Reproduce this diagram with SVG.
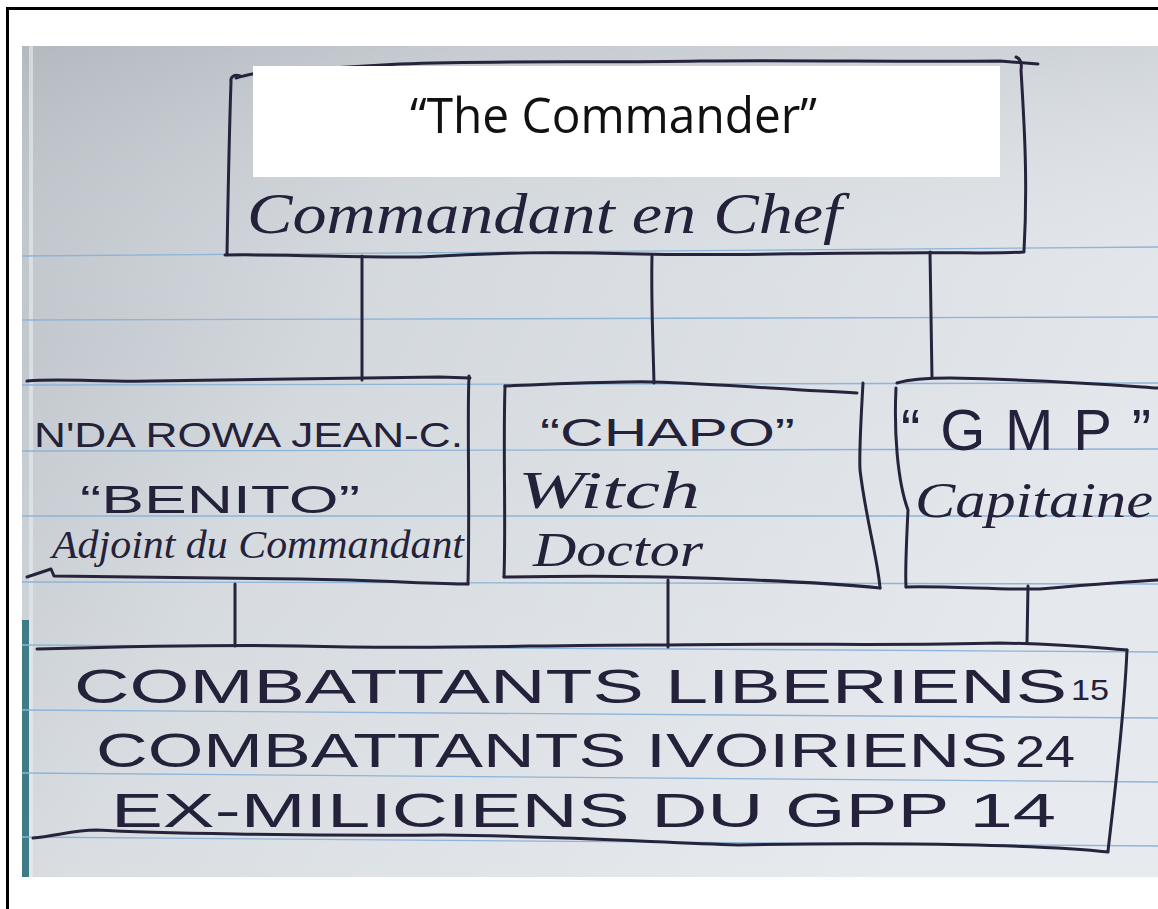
<svg xmlns="http://www.w3.org/2000/svg" width="1158" height="909" viewBox="0 0 1158 909">
  <defs>
    <linearGradient id="paper" x1="0" y1="0" x2="1" y2="0.35">
      <stop offset="0" stop-color="#b9c0c6"/>
      <stop offset="0.35" stop-color="#d3d8dd"/>
      <stop offset="1" stop-color="#e3e7ec"/>
    </linearGradient>
    <linearGradient id="paperV" x1="0" y1="0" x2="0" y2="1">
      <stop offset="0" stop-color="#9ea6ac" stop-opacity="0.25"/>
      <stop offset="0.35" stop-color="#ffffff" stop-opacity="0"/>
      <stop offset="1" stop-color="#ffffff" stop-opacity="0.15"/>
    </linearGradient>
    <clipPath id="photo">
      <rect x="22" y="46" width="1136" height="831"/>
    </clipPath>
    <style>
      .ink { fill: none; stroke: #26243d; stroke-width: 3; stroke-linecap: round; stroke-linejoin: round; }
      .rule { fill: none; stroke: #8db4d9; stroke-width: 1.4; }
      .caps { font-family: "Liberation Sans", Arial, sans-serif; fill: #24223a; }
      .script { font-family: "Liberation Serif", "Times New Roman", serif; font-style: italic; fill: #24223a; }
      .label { font-family: "Open Sans", "Noto Sans", sans-serif; fill: #111111; }
    </style>
  </defs>

  <!-- frame -->
  <rect x="0" y="0" width="1158" height="909" fill="#ffffff"/>
  <rect x="7.5" y="8.5" width="1170" height="920" fill="none" stroke="#000000" stroke-width="3"/>

  <g clip-path="url(#photo)">
    <!-- notebook paper -->
    <rect x="22" y="46" width="1136" height="831" fill="url(#paper)"/>
    <rect x="22" y="46" width="1136" height="831" fill="url(#paperV)"/>
    <rect x="22" y="620" width="7" height="257" fill="#3f7c88"/>
    <rect x="29" y="46" width="4" height="831" fill="#e9edf0" opacity="0.6"/>

    <!-- ruled lines -->
    <g id="rules">
      <path class="rule" d="M22,256 L1158,247"/>
      <path class="rule" d="M22,320 L1158,317"/>
      <path class="rule" d="M22,385 L1158,383"/>
      <path class="rule" d="M22,451 L1158,449"/>
      <path class="rule" d="M22,516 L1158,516"/>
      <path class="rule" d="M22,582 L1158,584"/>
      <path class="rule" d="M22,645 L1158,652"/>
      <path class="rule" d="M22,710 L1158,718"/>
      <path class="rule" d="M22,773 L1158,782"/>
      <path class="rule" d="M22,837 L1158,846"/>
    </g>

    <!-- connectors -->
    <g id="connectors">
      <path class="ink" d="M362,256 L362,380"/>
      <path class="ink" d="M652,256 C651,300 653,340 654,383"/>
      <path class="ink" d="M930,252 L932,378"/>
      <path class="ink" d="M235,584 L235,646"/>
      <path class="ink" d="M668,580 L668,647"/>
      <path class="ink" d="M1028,586 L1027,643"/>
    </g>

    <!-- commander in chief -->
    <g id="node-chef">
      <path class="ink" d="M240,76 C234,74 230,77 231,82 C229,140 228,200 227,254"/>
      <path class="ink" d="M236,78 C245,75 252,74 262,72 L400,64 C500,60 600,63 700,61 C800,60 900,62 1000,61 L1038,64"/>
      <path class="ink" d="M1016,57 C1021,59 1022,64 1021,70 C1024,120 1028,180 1024,251"/>
      <path class="ink" d="M225,255 C300,254 350,258 420,257 C500,252 560,252 640,254 C720,256 800,253 880,253 C950,252 1000,254 1024,252"/>
      <rect x="253" y="66" width="747" height="111" fill="#ffffff"/>
      <text class="label" x="410" y="133" font-size="50" textLength="407" lengthAdjust="spacingAndGlyphs">“The Commander”</text>
      <text class="script" x="247" y="233" font-size="58" textLength="595" lengthAdjust="spacingAndGlyphs">Commandant en Chef</text>
    </g>

    <!-- deputy commander -->
    <g id="node-benito">
      <path class="ink" d="M27,381 C60,378 100,382 150,381 C250,379 350,378 440,377 L470,378"/>
      <path class="ink" d="M469,376 C467,420 470,500 468,584"/>
      <path class="ink" d="M27,577 L51,569 L54,576 C100,576 200,578 300,579 C380,580 430,584 468,584"/>
      <text class="caps" x="34" y="447" font-size="35" textLength="429" lengthAdjust="spacingAndGlyphs">N'DA ROWA JEAN-C.</text>
      <text class="caps" x="80" y="513" font-size="38" textLength="280" lengthAdjust="spacingAndGlyphs">“BENITO”</text>
      <text class="script" x="52" y="558" font-size="40" textLength="412" lengthAdjust="spacingAndGlyphs">Adjoint du Commandant</text>
    </g>

    <!-- witch doctor -->
    <g id="node-chapo">
      <path class="ink" d="M505,386 C503,450 506,520 504,577"/>
      <path class="ink" d="M505,386 C560,384 620,381 653,382 C720,384 790,390 857,393"/>
      <path class="ink" d="M863,383 C861,420 859,450 860,470 C866,520 878,560 880,588"/>
      <path class="ink" d="M504,577 C560,576 620,575 700,578 C760,580 820,582 880,588"/>
      <text class="caps" x="540" y="446" font-size="38" textLength="255" lengthAdjust="spacingAndGlyphs">“CHAPO”</text>
      <text class="script" x="518" y="508" font-size="52" textLength="182" lengthAdjust="spacingAndGlyphs">Witch</text>
      <text class="script" x="533" y="566" font-size="48" textLength="170" lengthAdjust="spacingAndGlyphs">Doctor</text>
    </g>

    <!-- captain -->
    <g id="node-gmp">
      <path class="ink" d="M896,388 C894,430 897,480 908,510 C906,550 905,570 906,587"/>
      <path class="ink" d="M897,383 C910,379 930,378 950,378 C1050,380 1100,384 1158,388"/>
      <path class="ink" d="M906,587 C950,586 1000,590 1040,589 C1100,584 1140,581 1160,580"/>
      <text class="caps" x="901" y="450" font-size="58" textLength="250">“GMP”</text>
      <text class="script" x="915" y="517" font-size="50" textLength="238" lengthAdjust="spacingAndGlyphs">Capitaine</text>
    </g>

    <!-- fighters -->
    <g id="node-fighters">
      <path class="ink" d="M37,649 C150,646 250,645 300,646 C450,650 550,644 668,645 C800,643 900,646 1000,643 C1060,644 1100,648 1127,650"/>
      <path class="ink" d="M1127,650 C1124,720 1115,790 1108,851"/>
      <path class="ink" d="M33,838 C55,836 75,830 96,830 C150,833 300,836 443,835 C550,836 650,842 738,845 C900,842 1050,845 1108,852"/>
      <text class="caps" x="74" y="703" font-size="48" textLength="993" lengthAdjust="spacingAndGlyphs">COMBATTANTS LIBERIENS</text>
      <text class="caps" x="1071" y="700" font-size="30" textLength="38" lengthAdjust="spacingAndGlyphs">15</text>
      <text class="caps" x="96" y="767" font-size="48" textLength="912" lengthAdjust="spacingAndGlyphs">COMBATTANTS IVOIRIENS</text>
      <text class="caps" x="1015" y="767" font-size="45" textLength="60" lengthAdjust="spacingAndGlyphs">24</text>
      <text class="caps" x="111" y="827" font-size="48" textLength="945" lengthAdjust="spacingAndGlyphs">EX-MILICIENS DU GPP 14</text>
    </g>
  </g>
</svg>
